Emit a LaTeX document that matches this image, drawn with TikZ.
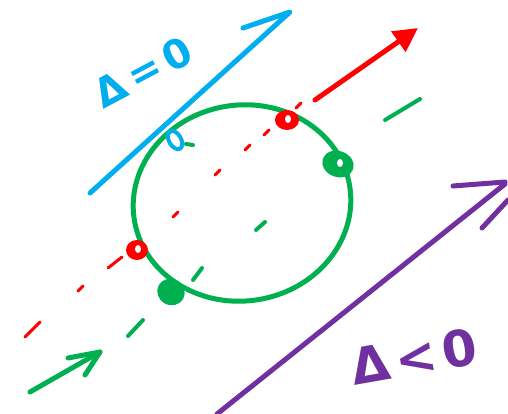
\documentclass[tikz,border=0pt]{standalone}
\usepackage{fontspec}
\usepackage{xcolor}
\usepackage{tikz}
\usetikzlibrary{arrows.meta}
\newfontfamily\handfont{DejaVu Sans}
\definecolor{inkblue}{HTML}{00AEEF}
\definecolor{inkgreen}{HTML}{00B050}
\definecolor{inkred}{HTML}{FF0000}
\definecolor{inkpurple}{HTML}{7030A0}
\tikzset{
  % Pen strokes
  pen/.style={line width=5pt,line cap=round,line join=round},
  thinpen/.style={line width=3pt,line cap=round},
  % Touch points on the circle
  blob/.style={fill,draw=none},
  hole/.style={fill=white,draw=none},
  % Handwritten labels
  lbl/.style={inner sep=0pt,font=\handfont\bfseries\fontsize{40}{42}\selectfont}
}

\begin{document}
\begin{tikzpicture}[x=1pt,y=-1pt]
  \useasboundingbox (0,0) rectangle (508,414);

  % The circle
  \draw[pen,inkgreen,rotate around={8:(242,203)}] (242,203) ellipse (109 and 98);

  % Tangent line, delta = 0
  \draw[pen,inkblue] (90,193) -- (290,12) -- (243,28);
  \draw[line width=4pt,inkblue,rotate around={30:(175,140)}] (175,140) ellipse (6 and 10);
  \node[lbl,text=inkblue,rotate=28] (tangentlbl) at (143,72) {Δ\kern6pt=\kern6pt0};

  % Secant line, delta > 0
  \foreach \a/\b in {78/291,173/217,215/175,245/150,264/135,296/108}
    \draw[thinpen,inkred] (\a,\b) -- ++(5,-5);
  \draw[thinpen,inkred] (25,337) -- (40,322);
  \draw[thinpen,inkred] (108,268) -- (122,257);
  \draw[pen,inkred,-{Triangle[length=24pt,width=24pt]}] (315,100) -- (418,28);
  \fill[blob,inkred] (287,120) ellipse (12 and 10);
  \fill[hole] (288,119) ellipse (3 and 4);
  \fill[blob,inkred] (137,250) ellipse (11 and 10);
  \fill[hole] (138,249) ellipse (3 and 4);

  % Parallel line through the green points
  \draw[pen,inkgreen] (30,392) -- (100,352);
  \draw[pen,inkgreen] (68,358) -- (100,352) -- (85,375);
  \foreach \a/\b/\c/\d in {128/336/143/320,193/280/202/268,256/230/265/222,186/144/193/145,385/120/420/99}
    \draw[line width=4pt,line cap=round,inkgreen] (\a,\b) -- (\c,\d);
  \fill[blob,inkgreen,rotate around={-20:(338,164)}] (338,164) ellipse (16 and 13);
  \fill[hole] (340,163) ellipse (3 and 4);
  \fill[blob,inkgreen,rotate around={-30:(171,292)}] (171,292) ellipse (14 and 13);

  % Line missing the circle, delta < 0
  \draw[pen,inkpurple] (217,414) -- (505,184);
  \draw[pen,inkpurple] (453,186) -- (505,182);
  \draw[pen,inkpurple] (482,228) -- (508,200);
  \node[lbl,text=inkpurple,rotate=10,font=\handfont\bfseries\fontsize{50}{52}\selectfont] (outsidelbl) at (414,357) {Δ\kern6pt<\kern6pt0};
\end{tikzpicture}
\end{document}
